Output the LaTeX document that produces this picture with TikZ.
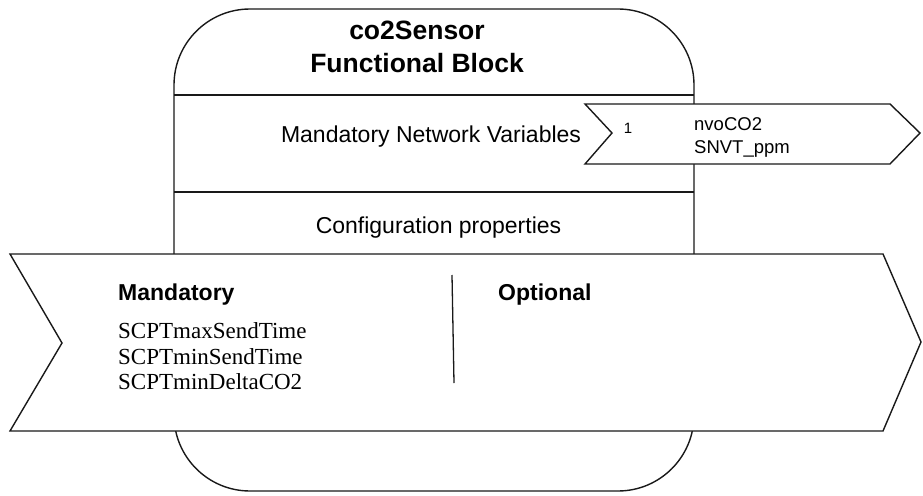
\documentclass[tikz,border=0pt]{standalone}
\usepackage{fontspec}
\setmainfont{Liberation Sans}
\newfontfamily\timesf{Liberation Serif}
\begin{document}
\begin{tikzpicture}[x=1pt,y=-1pt,
  outline/.style={draw=black!90,line width=1.4pt,line join=miter},
  sanstxt/.style={inner sep=0pt,font=\fontsize{23}{27}\selectfont},
  boldtxt/.style={inner sep=0pt,font=\fontsize{23}{27}\selectfont\bfseries},
  smalltxt/.style={inner sep=0pt,font=\fontsize{18.5}{21}\selectfont},
  sertxt/.style={inner sep=0pt,font=\timesf\fontsize{23}{26}\selectfont}]
\useasboundingbox (0,0) rectangle (923,495);
% functional block outline
\draw[outline,rounded corners=76pt] (174,9) rectangle (694,491);
\draw[outline] (174,95) -- (694,95);
\draw[outline] (174,192) -- (694,192);
% title
\node[anchor=base,inner sep=0pt,font=\fontsize{26.5}{30}\selectfont\bfseries] (t1) at (417,40) {co2Sensor};
\node[anchor=base,inner sep=0pt,font=\fontsize{26.5}{30}\selectfont\bfseries] (t2) at (417,72) {Functional Block};
\node[anchor=base,sanstxt] (mnv) at (431,142) {Mandatory Network Variables};
\node[anchor=base,sanstxt] (cfg) at (438.5,233) {Configuration properties};
% network variable chevron
\draw[outline,fill=white] (585,104) -- (890,104) -- (920,133) -- (890,164) -- (585,164) -- (612,133) -- cycle;
\node[anchor=base,inner sep=0pt,font=\fontsize{15}{17}\selectfont] (n1) at (628,133) {1};
\node[anchor=base west,smalltxt] (nv1) at (694,130) {nvoCO2};
\node[anchor=base west,smalltxt] (nv2) at (694,153) {SNVT\_ppm};
% configuration properties chevron
\draw[outline,fill=white] (10,254) -- (883,254) -- (921,342) -- (883,431) -- (10,431) -- (62,343) -- cycle;
\coordinate (d1) at (452,275);
\coordinate (d2) at (454,383);
\draw[draw=black!90,line width=1.3pt] (d1) -- (d2);
\node[anchor=base west,boldtxt] (man) at (118,300) {Mandatory};
\node[anchor=base west,boldtxt] (opt) at (498,300) {Optional};
\node[anchor=base west,sertxt] (s1) at (118,338) {SCPTmaxSendTime};
\node[anchor=base west,sertxt] (s2) at (118,364) {SCPTminSendTime};
\node[anchor=base west,sertxt] (s3) at (118,389) {SCPTminDeltaCO2};
\end{tikzpicture}
\end{document}
